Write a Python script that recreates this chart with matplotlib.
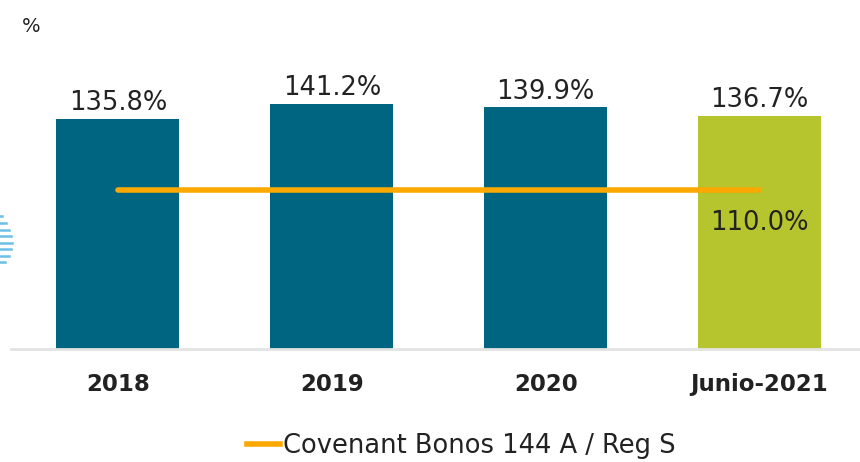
import matplotlib
matplotlib.use("Agg")
import matplotlib.pyplot as plt
from matplotlib.lines import Line2D

# ratio per period and covenant floor (%)
periods = ["2018", "2019", "2020", "Junio-2021"]
ratios = [135.8, 141.2, 139.9, 136.7]
covenant = [110.0, 110.0, 110.0, 110.0]
covenant_label = "Covenant Bonos 144 A / Reg S"

TEAL = "#006580"
LIME = "#b6c42d"
ORANGE = "#fba900"
INK = "#222222"

plt.rcParams["font.family"] = ["DejaVu Sans"]

fig = plt.figure(figsize=(8.6, 4.62), dpi=100)
ax = fig.add_axes([11 / 860, 1 - 349 / 462, 849 / 860, 324 / 462])

x = list(range(len(periods)))
colors = [TEAL] * (len(periods) - 1) + [LIME]
bars = ax.bar(x, ratios, width=0.575, color=colors, zorder=2)
for b, v in zip(bars, ratios):
    ax.annotate(f"{v:.1f}%", (b.get_x() + b.get_width() / 2, v),
                xytext=(0, 2), textcoords="offset points",
                ha="center", va="bottom", fontsize=18.5, color=INK)

ax.plot(x, covenant, color=ORANGE, lw=4, solid_capstyle="round", zorder=3)
ax.text(x[-1], covenant[-1] - 11.8, f"{covenant[-1]:.1f}%",
        ha="center", va="center", fontsize=18.5, color=INK, zorder=4)

ax.set_xlim(-0.5, 3.47)
ax.set_ylim(53, 169.5)
ax.set_xticks(x)
ax.set_xticklabels(periods, fontsize=16.5, fontweight="bold", color=INK)
ax.tick_params(axis="x", length=0, pad=17)
ax.set_yticks([])
for side in ("top", "right", "left"):
    ax.spines[side].set_visible(False)
ax.spines["bottom"].set_color("#e3e3e3")
ax.spines["bottom"].set_linewidth(2)

fig.text(22 / 860, 1 - 26 / 462, "%", fontsize=14, color=INK, va="center")

# legend row
handle = Line2D([], [], color=ORANGE, lw=4)
fig.legend([handle], [covenant_label], loc="center", bbox_to_anchor=(0.536, 1 - 446 / 462),
           frameon=False, fontsize=18.5, handlelength=1.3, handletextpad=0.1,
           labelcolor=INK)

# striped slide ornament on the left edge
stripe_y = [216, 223, 230, 236, 243, 249, 256, 262]
stripe_len = [2, 6, 9, 11, 12, 11, 9, 5]
for yy, ln in zip(stripe_y, stripe_len):
    fig.add_artist(Line2D([0, ln / 860], [1 - yy / 462] * 2, color="#6cc0e6",
                          lw=1.8, transform=fig.transFigure))

fig.savefig("out.png", dpi=100)
